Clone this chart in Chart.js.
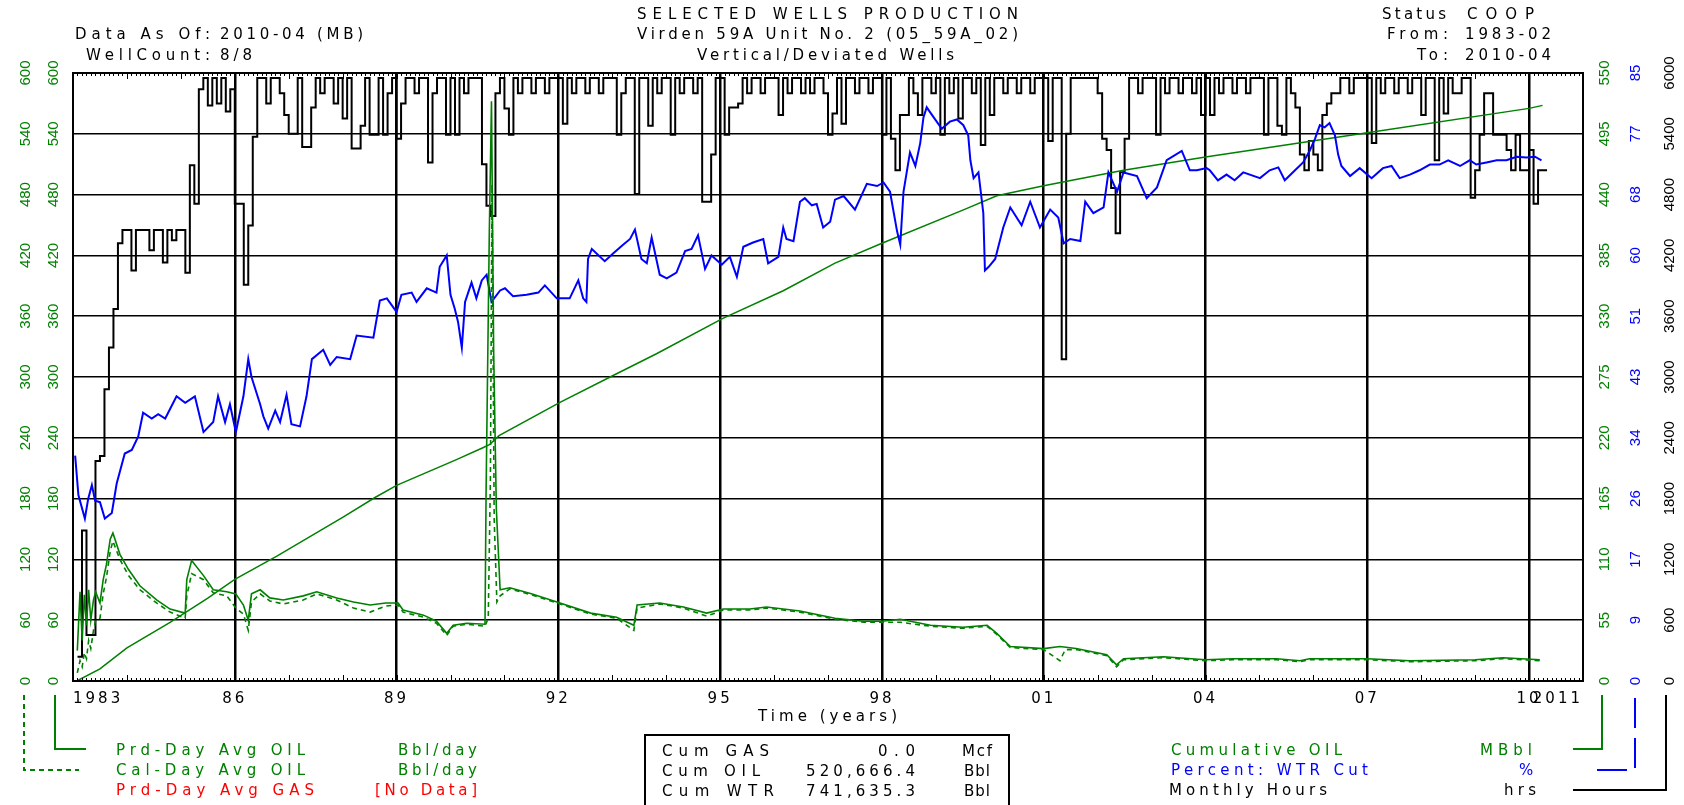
<!DOCTYPE html>
<html>
<head>
<meta charset="utf-8">
<script src="https://cdn.jsdelivr.net/npm/chart.js@4.4.0/dist/chart.umd.min.js"></script>
<style>
  html, body { margin: 0; padding: 0; background: #fff; }
  #wrap { width: 1684px; height: 805px; }
</style>
</head>
<body>
<div id="wrap"><canvas id="prodchart" width="1684" height="805"></canvas></div>
<script>
// axis ticks
const xTickYears = [1983, 1986, 1989, 1992, 1995, 1998, 2001, 2004, 2007, 2010, 2011];
const xTickLabels = ['1983', '86', '89', '92', '95', '98', '01', '04', '07', '10', '2011'];
const wcTickValues = [0, 8.5, 17, 25.5, 34, 42.5, 51, 59.5, 68, 76.5, 85];
const wcTickLabels = ['0', '9', '17', '26', '34', '43', '51', '60', '68', '77', '85'];

// monthly hours, Feb 1983 .. Apr 2010
const hoursFirstMonth = 1983 + 1 / 12;
const monthlyHours = [
  240, 1485, 455, 455, 2170, 2220, 2880, 3290, 3670, 4320, 4450,
  4450, 4050, 4450, 4450, 4450, 4250, 4450, 4450, 4130, 4450, 4350, 4450,
  4450, 4030, 5090, 4710, 5840, 5950, 5680, 5950, 5700, 5950, 5620, 5840,
  4710, 4710, 3910, 4495, 5370, 5950, 5950, 5700, 5950, 5950, 5800, 5585,
  5400, 5400, 5950, 5270, 5270, 5660, 5950, 5800, 5950, 5950, 5700, 5950,
  5550, 5950, 5255, 5255, 5480, 5950, 5390, 5390, 5950, 5390, 5800, 5950,
  5350, 5700, 5950, 5950, 5800, 5950, 5950, 5118, 5800, 5950, 5950, 5390,
  5950, 5390, 5950, 5800, 5950, 5950, 5950, 5100, 4690, 4590, 5800, 5950,
  5650, 5390, 5950, 5800, 5950, 5950, 5800, 5950, 5950, 5800, 5950, 5950,
  5950, 5500, 5950, 5800, 5950, 5950, 5800, 5950, 5950, 5800, 5950, 5950,
  5950, 5390, 5800, 5950, 5950, 4807, 5950, 5950, 5480, 5950, 5800, 5950,
  5950, 5390, 5950, 5800, 5950, 5950, 5800, 5950, 4730, 4730, 5195, 5950,
  5950, 5390, 5660, 5660, 5700, 5950, 5800, 5950, 5950, 5800, 5950, 5950,
  5950, 5585, 5950, 5800, 5950, 5950, 5800, 5950, 5800, 5950, 5950, 5800,
  5390, 5600, 5950, 5500, 5950, 5950, 5800, 5950, 5950, 5800, 5950, 5950,
  5390, 5950, 5350, 5040, 5585, 5585, 5950, 5800, 5585, 5950, 5950, 5800,
  5950, 5390, 5950, 5800, 5950, 5550, 5950, 5950, 5800, 5950, 5290, 5950,
  5585, 5950, 5950, 5800, 5950, 5950, 5800, 5950, 5950, 5800, 5950, 5950,
  5950, 5330, 5950, 5950, 3175, 5400, 5950, 5950, 5950, 5950, 5950, 5950,
  5800, 5350, 5240, 4865, 4418, 5020, 5350, 5950, 5950, 5800, 5950, 5950,
  5950, 5390, 5950, 5800, 5950, 5950, 5800, 5950, 5950, 5800, 5950, 5585,
  5950, 5585, 5950, 5800, 5950, 5950, 5800, 5950, 5950, 5800, 5950, 5950,
  5950, 5390, 5950, 5950, 5480, 5390, 5950, 5800, 5660, 5195, 5040, 5330,
  5195, 5040, 5585, 5700, 5800, 5800, 5950, 5950, 5800, 5950, 5950, 5950,
  5950, 5310, 5950, 5800, 5950, 5950, 5800, 5950, 5950, 5800, 5950, 5950,
  5585, 5950, 5950, 5140, 5950, 5600, 5950, 5800, 5800, 5950, 5950, 4770,
  5040, 5390, 5800, 5800, 5390, 5390, 5390, 5240, 5040, 5390, 5040, 5040,
  5240, 4710, 5040, 5040
];

// producing-day oil rate (bbl/day)
const prdOilYears = [1983.08, 1983.13, 1983.17, 1983.21, 1983.25, 1983.29, 1983.33, 1983.38, 1983.42, 1983.50,
  1983.56, 1983.62, 1983.69, 1983.74, 1983.87, 1984.03, 1984.24, 1984.55, 1984.80, 1985.08,
  1985.11, 1985.20, 1985.42, 1985.60, 1985.85, 1986.02, 1986.16, 1986.25, 1986.31, 1986.47,
  1986.65, 1986.90, 1987.27, 1987.52, 1987.89, 1988.20, 1988.51, 1988.80, 1989.03, 1989.12,
  1989.50, 1989.74, 1989.93, 1990.05, 1990.30, 1990.64, 1990.66, 1990.72, 1990.76, 1990.80,
  1990.85, 1990.92, 1991.10, 1991.50, 1992.03, 1992.60, 1993.08, 1993.40, 1993.46, 1993.88,
  1994.32, 1994.75, 1995.06, 1995.55, 1995.86, 1996.48, 1997.13, 1997.66, 1998.00, 1998.34,
  1998.90, 1999.50, 1999.95, 2000.13, 2000.38, 2001.00, 2001.30, 2001.60, 2002.17, 2002.35,
  2002.48, 2003.22, 2004.00, 2004.50, 2005.32, 2005.75, 2005.93, 2007.00, 2007.79, 2009.00,
  2009.52, 2010.20];
const prdOilRate = [30, 88, 40, 85, 55, 90, 60, 80, 88, 77,
  100, 115, 140, 146, 125, 110, 94, 80, 71, 67,
  100, 119, 104, 90, 88, 86, 75, 60, 86, 90,
  82, 80, 84, 88, 82, 78, 75, 77, 77, 70,
  65, 59, 47, 55, 57, 56, 187, 444, 572, 327,
  170, 90, 92, 86, 77, 67, 63, 55, 75, 77,
  73, 67, 71, 71, 73, 69, 62, 59, 59, 61,
  55, 53, 55, 47, 34, 32, 34, 32, 26, 16,
  22, 24, 21, 22, 22, 20, 22, 22, 20, 21,
  23, 21];

// calendar-day oil rate (bbl/day)
const calOilYears = [1983.08, 1983.13, 1983.17, 1983.21, 1983.25, 1983.29, 1983.33, 1983.38, 1983.42, 1983.50,
  1983.56, 1983.62, 1983.69, 1983.74, 1983.87, 1984.03, 1984.24, 1984.55, 1984.80, 1985.08,
  1985.11, 1985.20, 1985.42, 1985.60, 1985.85, 1986.02, 1986.16, 1986.25, 1986.31, 1986.47,
  1986.65, 1986.90, 1987.27, 1987.52, 1987.89, 1988.20, 1988.51, 1988.80, 1989.03, 1989.12,
  1989.50, 1989.74, 1989.93, 1990.05, 1990.30, 1990.64, 1990.70, 1990.74, 1990.77, 1990.81,
  1990.86, 1990.92, 1991.10, 1991.50, 1992.03, 1992.60, 1993.08, 1993.40, 1993.46, 1993.88,
  1994.32, 1994.75, 1995.06, 1995.55, 1995.86, 1996.48, 1997.13, 1997.66, 1998.00, 1998.34,
  1998.90, 1999.50, 1999.95, 2000.13, 2000.38, 2001.00, 2001.30, 2001.40, 2001.60, 2002.17,
  2002.35, 2002.48, 2003.22, 2004.00, 2004.50, 2005.32, 2005.75, 2005.93, 2007.00, 2007.79,
  2009.00, 2009.52, 2010.20];
const calOilRate = [8, 20, 14, 28, 22, 40, 32, 50, 60, 62,
  86, 102, 128, 138, 120, 104, 90, 77, 68, 62,
  84, 106, 100, 87, 84, 72, 66, 50, 78, 86,
  79, 76, 80, 86, 80, 72, 68, 74, 75, 68,
  63, 57, 45, 54, 56, 54, 62, 200, 490, 160,
  78, 84, 91, 85, 76, 66, 62, 50, 72, 76,
  72, 64, 70, 70, 72, 68, 61, 58, 58, 58,
  54, 52, 54, 46, 33, 31, 20, 31, 31, 25,
  14, 21, 23, 20, 21, 21, 19, 21, 21, 19,
  20, 22, 20];

// cumulative oil (MBbl)
const cumOilYears = [1983.07, 1983.5, 1984.0, 1984.8, 1985.5, 1986.0, 1986.78, 1988.0, 1988.6, 1989.0,
  1990.1, 1990.6, 1990.73, 1990.9, 1992.03, 1992.96, 1993.82, 1995.05, 1996.17, 1997.13,
  1998.0, 1999.5, 2000.13, 2001.0, 2002.48, 2004.0, 2007.0, 2010.0, 2010.25];
const cumOilMbbl = [0, 11, 30, 53, 75, 92, 113, 148, 166, 177,
  200, 211, 214, 222, 252, 275, 296, 328, 353, 378,
  396, 426, 439, 448, 462, 474, 496, 518, 520.7];

// water cut (%)
const wtrCutYears = [1983.04, 1983.10, 1983.22, 1983.28, 1983.35, 1983.41, 1983.50, 1983.59, 1983.72, 1983.81,
  1983.96, 1984.09, 1984.21, 1984.30, 1984.46, 1984.58, 1984.71, 1984.92, 1985.08, 1985.26,
  1985.42, 1985.60, 1985.69, 1985.82, 1985.91, 1986.02, 1986.16, 1986.25, 1986.31, 1986.47,
  1986.53, 1986.62, 1986.75, 1986.84, 1986.96, 1987.05, 1987.21, 1987.33, 1987.43, 1987.64,
  1987.77, 1987.89, 1988.14, 1988.26, 1988.57, 1988.69, 1988.82, 1989.00, 1989.09, 1989.28,
  1989.37, 1989.56, 1989.74, 1989.80, 1989.93, 1990.00, 1990.08, 1990.14, 1990.21, 1990.27,
  1990.39, 1990.48, 1990.58, 1990.67, 1990.76, 1990.92, 1991.01, 1991.16, 1991.41, 1991.63,
  1991.75, 1991.97, 1992.21, 1992.37, 1992.46, 1992.52, 1992.55, 1992.62, 1992.86, 1993.02,
  1993.20, 1993.33, 1993.42, 1993.54, 1993.64, 1993.73, 1993.88, 1994.01, 1994.19, 1994.35,
  1994.47, 1994.59, 1994.72, 1994.84, 1995.03, 1995.18, 1995.31, 1995.43, 1995.61, 1995.80,
  1995.89, 1996.08, 1996.17, 1996.23, 1996.36, 1996.48, 1996.57, 1996.70, 1996.79, 1996.91,
  1997.04, 1997.13, 1997.29, 1997.50, 1997.72, 1997.91, 1998.03, 1998.15, 1998.28, 1998.34,
  1998.40, 1998.52, 1998.62, 1998.71, 1998.77, 1998.83, 1998.96, 1999.11, 1999.26, 1999.39,
  1999.51, 1999.60, 1999.64, 1999.70, 1999.79, 1999.85, 1999.88, 1999.91, 1999.98, 2000.10,
  2000.25, 2000.38, 2000.59, 2000.75, 2000.93, 2001.12, 2001.27, 2001.37, 2001.49, 2001.68,
  2001.77, 2001.92, 2002.11, 2002.20, 2002.36, 2002.48, 2002.73, 2002.91, 2003.10, 2003.28,
  2003.56, 2003.71, 2003.84, 2004.02, 2004.08, 2004.23, 2004.39, 2004.54, 2004.70, 2005.01,
  2005.19, 2005.35, 2005.47, 2005.66, 2005.81, 2005.93, 2006.03, 2006.12, 2006.21, 2006.30,
  2006.40, 2006.46, 2006.52, 2006.68, 2006.86, 2007.08, 2007.29, 2007.45, 2007.60, 2007.79,
  2007.97, 2008.16, 2008.34, 2008.50, 2008.72, 2008.90, 2009.02, 2009.21, 2009.40, 2009.58,
  2009.77, 2009.95, 2010.11, 2010.23];
const wtrCutPct = [31.5, 26, 22.7, 25.4, 27.4, 25.2, 25, 22.7, 23.5, 27.6,
  31.8, 32.3, 34.2, 37.5, 36.7, 37.3, 36.7, 39.8, 38.9, 39.8,
  34.8, 36.2, 39.8, 36.2, 38.7, 34.8, 39.8, 45, 42.5, 38.7,
  37, 35.3, 37.8, 36.2, 40, 35.9, 35.6, 39.8, 45, 46.3,
  44.2, 45.3, 45, 48.3, 48, 53.2, 53.5, 51.6, 54, 54.3,
  53, 54.9, 54.3, 57.9, 59.5, 54, 52, 50.2, 46.6, 53,
  55.7, 53.5, 56, 56.8, 53, 54.6, 54.9, 53.8, 54, 54.3,
  55.3, 53.5, 53.5, 56, 53.5, 53, 59, 60.4, 58.7, 59.8,
  61, 61.8, 63.1, 59, 58.4, 62, 56.8, 56.3, 57.1, 60.1,
  60.4, 62.3, 57.6, 59.5, 58.2, 59.3, 56.5, 60.7, 61.3, 61.8,
  58.4, 59.3, 63.4, 61.8, 61.5, 67, 67.5, 66.5, 66.7, 63.4,
  64.2, 67.3, 67.8, 65.9, 69.5, 69.2, 69.7, 68.4, 62.9, 61,
  68.4, 73.9, 72, 75.2, 78.8, 80.2, 78.8, 77.2, 78.2, 78.5,
  77.7, 76.3, 72.8, 70.3, 71.1, 67.3, 65.4, 57.4, 57.9, 59,
  63.4, 66.2, 63.7, 67, 63.4, 65.9, 64.8, 61.2, 61.8, 61.5,
  67, 65.4, 66.2, 71.1, 68.4, 71.1, 70.6, 67.5, 69, 72.8,
  74.1, 71.4, 71.4, 71.7, 71.4, 70, 70.8, 70, 71.1, 70.3,
  71.4, 71.8, 70, 71.4, 72.5, 74.1, 75.8, 77.7, 77.4, 78,
  76.3, 73.6, 72, 70.6, 71.7, 70.3, 71.7, 72, 70.3, 70.8,
  71.4, 72.2, 72.2, 72.8, 72, 72.8, 72.2, 72.5, 72.8, 72.8,
  73.3, 73.2, 73.3, 72.8];

const GREEN = '#008000';
const BLUE = '#0000ff';
const RED = '#ff0000';
const tickFont = { family: "'Liberation Sans Narrow', 'Liberation Sans', sans-serif", size: 15 };
const textFont = '"DejaVu Sans", sans-serif';

const pts = (xs, ys) => xs.map((x, i) => ({ x: x, y: ys[i] }));
const hoursPts = monthlyHours.map((v, i) => ({ x: hoursFirstMonth + i / 12, y: v }));
hoursPts.push({ x: hoursFirstMonth + monthlyHours.length / 12, y: monthlyHours[monthlyHours.length - 1] });

// text stretched to the width it has in the reference
function fitText(ctx, s, x0, x1, y, color) {
  ctx.font = '15px ' + textFont;
  ctx.letterSpacing = '0px';
  const w = ctx.measureText(s).width;
  const sp = s.length > 1 ? Math.max(0, (x1 - x0 - w) / (s.length - 1)) : 0;
  ctx.letterSpacing = sp + 'px';
  ctx.fillStyle = color || '#000';
  ctx.textAlign = 'left';
  ctx.textBaseline = 'middle';
  ctx.fillText(s, x0, y);
  ctx.letterSpacing = '0px';
}

const texts = [
  ['Data As Of:', 75, 210, 35], ['2010-04 (MB)', 220, 363, 35],
  ['WellCount:', 86, 210, 56], ['8/8', 220, 252, 56],
  ['SELECTED WELLS PRODUCTION', 637, 1018, 15],
  ['Virden 59A Unit No. 2 (05_59A_02)', 637, 1018, 35],
  ['Vertical/Deviated Wells', 697, 954, 56],
  ['Status', 1382, 1446, 15], ['COOP', 1467, 1534, 15],
  ['From:', 1387, 1448, 35], ['1983-02', 1465, 1551, 35],
  ['To:', 1417, 1448, 56], ['2010-04', 1465, 1551, 56],
  ['Time (years)', 758, 897, 717],
  ['Prd-Day Avg OIL', 116, 305, 751, GREEN], ['Bbl/day', 398, 477, 751, GREEN],
  ['Cal-Day Avg OIL', 116, 305, 771, GREEN], ['Bbl/day', 398, 477, 771, GREEN],
  ['Prd-Day Avg GAS', 116, 314, 791, RED], ['[No Data]', 375, 477, 791, RED],
  ['Cum GAS', 662, 769, 752], ['0.0', 878, 915, 752], ['Mcf', 962, 992, 752],
  ['Cum OIL', 662, 760, 772], ['520,666.4', 806, 915, 772], ['Bbl', 964, 990, 772],
  ['Cum WTR', 662, 774, 792], ['741,635.3', 806, 915, 792], ['Bbl', 964, 990, 792],
  ['Cumulative OIL', 1171, 1342, 751, GREEN], ['MBbl', 1480, 1532, 751, GREEN],
  ['Percent: WTR Cut', 1171, 1368, 771, BLUE], ['%', 1519, 1536, 771, BLUE],
  ['Monthly Hours', 1169, 1327, 791], ['hrs', 1504, 1536, 791]
];

const decor = {
  id: 'decor',
  beforeDraw(chart) {
    chart.ctx.letterSpacing = '3px';   // x tick labels only
  },
  beforeDatasetsDraw(chart) {
    chart.ctx.letterSpacing = '0px';
  },
  afterDatasetsDraw(chart) {
    const { ctx, chartArea: a, scales } = chart;
    const x = scales.x;
    ctx.save();
    ctx.strokeStyle = '#000';
    ctx.lineWidth = 1;
    ctx.beginPath();
    for (let m = 0; m <= 28 * 12; m++) {
      const px = Math.round(x.getPixelForValue(1983 + m / 12)) + 0.5;
      const len = m % 12 === 0 ? 6 : 3;
      ctx.moveTo(px, a.bottom); ctx.lineTo(px, a.bottom - len);
      ctx.moveTo(px, a.top); ctx.lineTo(px, a.top + len);
    }
    ctx.stroke();
    ctx.lineWidth = 2;
    ctx.strokeRect(a.left, a.top, a.right - a.left, a.bottom - a.top);
    ctx.restore();
  },
  afterDraw(chart) {
    const ctx = chart.ctx;
    ctx.save();
    texts.forEach(t => fitText(ctx, t[0], t[1], t[2], t[3], t[4]));

    // stats box
    ctx.strokeStyle = '#000';
    ctx.lineWidth = 2;
    ctx.strokeRect(645, 735, 364, 80);

    // legend leader lines
    const leader = (color, dash, pts) => {
      ctx.beginPath();
      ctx.strokeStyle = color;
      ctx.lineWidth = 2;
      ctx.setLineDash(dash);
      ctx.moveTo(pts[0][0], pts[0][1]);
      for (let i = 1; i < pts.length; i++) ctx.lineTo(pts[i][0], pts[i][1]);
      ctx.stroke();
    };
    leader(GREEN, [], [[55, 695], [55, 749], [86, 749]]);
    leader(GREEN, [5, 4], [[24, 695], [24, 770], [79, 770]]);
    leader(GREEN, [], [[1602, 695], [1602, 749], [1573, 749]]);
    leader(BLUE, [30, 10], [[1635, 698], [1635, 770], [1588, 770]]);
    leader('#000', [], [[1666, 695], [1666, 790], [1573, 790]]);
    ctx.restore();
  }
};

const rotTicks = (color, pad) => ({
  minRotation: 90, maxRotation: 90, crossAlign: 'center', autoSkip: false,
  padding: pad, color: color, font: tickFont, z: 1
});

new Chart(document.getElementById('prodchart'), {
  type: 'line',
  data: {
    datasets: [
      { label: 'Prd-Day Avg OIL', data: pts(prdOilYears, prdOilRate), yAxisID: 'yPrd',
        borderColor: GREEN, borderWidth: 1.6 },
      { label: 'Cal-Day Avg OIL', data: pts(calOilYears, calOilRate), yAxisID: 'yCal',
        borderColor: GREEN, borderWidth: 1.6, borderDash: [5, 4] },
      { label: 'Percent: WTR Cut', data: pts(wtrCutYears, wtrCutPct), yAxisID: 'yWc',
        borderColor: BLUE, borderWidth: 2 },
      { label: 'Cumulative OIL', data: pts(cumOilYears, cumOilMbbl), yAxisID: 'yCum',
        borderColor: GREEN, borderWidth: 1.5 },
      { label: 'Monthly Hours', data: hoursPts, yAxisID: 'yHrs',
        borderColor: '#000', borderWidth: 2, stepped: true }
    ]
  },
  options: {
    responsive: false,
    animation: false,
    devicePixelRatio: 1,
    layout: { padding: { left: 0, right: 0, top: 73, bottom: 100 } },
    elements: { point: { radius: 0 }, line: { tension: 0, fill: false } },
    plugins: { legend: { display: false }, tooltip: { enabled: false } },
    scales: {
      x: {
        type: 'linear', position: 'bottom', min: 1983, max: 2011,
        afterBuildTicks: s => { s.ticks = xTickYears.map(v => ({ value: v })); },
        afterFit: s => { s.height = 24; },
        ticks: {
          autoSkip: false, minRotation: 0, maxRotation: 0, align: 'inner', padding: 9,
          color: '#000', font: { family: textFont, size: 15 },
          callback: (v, i) => xTickLabels[i]
        },
        grid: {
          drawTicks: false, lineWidth: 2.5,
          color: c => (c.index === 0 || c.index === xTickYears.length - 1) ? 'rgba(0,0,0,0)' : '#000'
        },
        border: { display: false }
      },
      yPrd: {
        position: 'left', min: 0, max: 600,
        afterFit: s => { s.width = 34; },
        ticks: Object.assign(rotTicks(GREEN, 7), { stepSize: 60, callback: v => String(v) }),
        grid: { color: '#000', lineWidth: 1.5, drawTicks: false },
        border: { display: false }
      },
      yCal: {
        position: 'left', min: 0, max: 600,
        afterFit: s => { s.width = 39; },
        ticks: Object.assign(rotTicks(GREEN, 1), { stepSize: 60, callback: v => String(v) }),
        grid: { display: false, drawTicks: false },
        border: { display: false }
      },
      yCum: {
        position: 'right', min: 0, max: 550,
        afterFit: s => { s.width = 40; },
        ticks: Object.assign(rotTicks(GREEN, 9), { stepSize: 55, callback: v => String(v) }),
        grid: { display: false, drawTicks: false },
        border: { display: false }
      },
      yWc: {
        position: 'right', min: 0, max: 85,
        afterBuildTicks: s => { s.ticks = wcTickValues.map(v => ({ value: v })); },
        afterFit: s => { s.width = 29; },
        ticks: Object.assign(rotTicks(BLUE, 5), { callback: (v, i) => wcTickLabels[i] }),
        grid: { display: false, drawTicks: false },
        border: { display: false }
      },
      yHrs: {
        position: 'right', min: 0, max: 6000,
        afterFit: s => { s.width = 32; },
        ticks: Object.assign(rotTicks('#000', 1), { stepSize: 600, callback: v => String(v) }),
        grid: { display: false, drawTicks: false },
        border: { display: false }
      }
    }
  },
  plugins: [decor]
});
</script>
</body>
</html>
